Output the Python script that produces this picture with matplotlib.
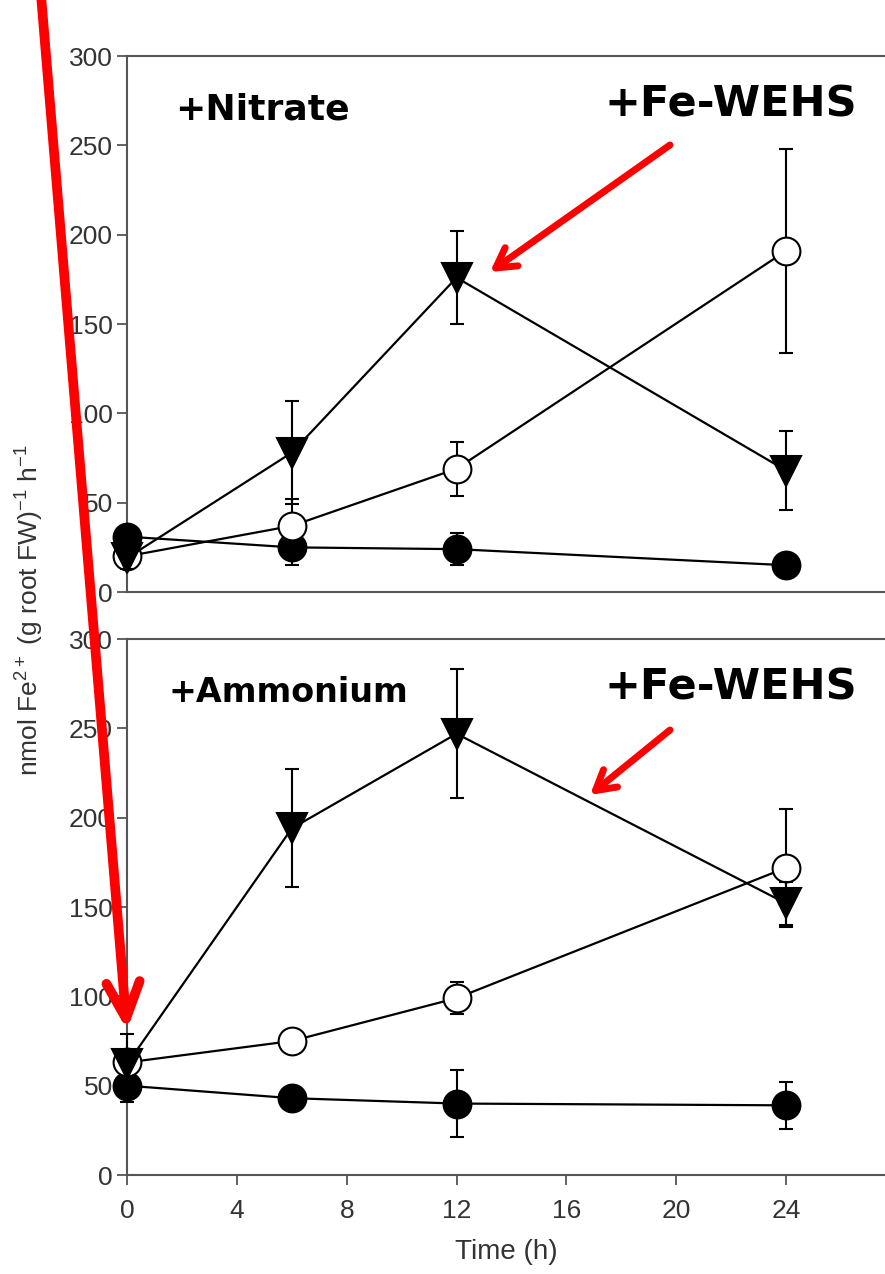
import matplotlib
matplotlib.use("Agg")
import matplotlib.pyplot as plt
from matplotlib.patches import FancyArrowPatch

# datos
tiempo = [0, 6, 12, 24]

# panel superior: +Nitrato
nit_lleno = [31, 25, 24, 15]
nit_lleno_err = [4, 10, 9, 3]
nit_abierto = [20, 37, 69, 191]
nit_abierto_err = [4, 15, 15, 57]
nit_tri = [19, 78, 176, 68]
nit_tri_err = [6, 29, 26, 22]

# panel inferior: +Amonio
amo_lleno = [50, 43, 40, 39]
amo_lleno_err = [9, 4, 19, 13]
amo_abierto = [63, 75, 99, 172]
amo_abierto_err = [4, 4, 9, 33]
amo_tri = [62, 194, 247, 152]
amo_tri_err = [17, 33, 36, 12]

xticks = [0, 4, 8, 12, 16, 20, 24]
yticks = [0, 50, 100, 150, 200, 250, 300]

GRIS = "#333333"
plt.rcParams["font.family"] = ["Liberation Sans", "DejaVu Sans"]

fig = plt.figure(figsize=(8.85, 12.74), dpi=100)
ax1 = fig.add_axes([0.1435, 0.5353, 0.8565, 0.4207])
ax2 = fig.add_axes([0.1435, 0.0777, 0.8565, 0.4207])


def serie(ax, y, err, marker, fill, z):
    ax.errorbar(tiempo, y, yerr=err, color="black", lw=1.6, elinewidth=1.5,
                capsize=5, capthick=1.5, marker=marker, ms=20 if marker == "o" else 21,
                mfc=fill, mec="black", mew=1.5, clip_on=False, zorder=z)


for ax, datos in [(ax1, (nit_lleno, nit_lleno_err, nit_abierto, nit_abierto_err, nit_tri, nit_tri_err)),
                  (ax2, (amo_lleno, amo_lleno_err, amo_abierto, amo_abierto_err, amo_tri, amo_tri_err))]:
    ll, lle, ab, abe, tr, tre = datos
    serie(ax, ll, lle, "o", "black", 3)
    serie(ax, ab, abe, "o", "white", 3.5)
    serie(ax, tr, tre, "v", "black", 4)
    ax.set_xlim(0, 27.6)
    ax.set_ylim(0, 300)
    ax.set_yticks(yticks)
    ax.spines["right"].set_visible(False)
    for s in ["left", "top", "bottom"]:
        ax.spines[s].set_color("#555555")
        ax.spines[s].set_linewidth(1.5)
    ax.tick_params(axis="y", direction="out", length=7, width=1.3, color="#555555",
                   labelsize=19, labelcolor=GRIS, pad=3)

ax1.set_xticks([])
ax2.set_xticks(xticks)
ax2.tick_params(axis="x", direction="out", length=7, width=1.3, color="#555555",
                labelsize=19, labelcolor=GRIS, pad=10)
ax2.set_xlabel("Time (h)", fontsize=20, color=GRIS, labelpad=12)

fig.text(0.034, 0.521, "nmol $\\mathregular{Fe^{2+}}$ (g root FW)$\\mathregular{^{-1}}$ h$\\mathregular{^{-1}}$",
         rotation=90, fontsize=19, color=GRIS, ha="center", va="center")

# rotulos
fuente = dict(fontweight="bold", color="black", family=["DejaVu Sans"])
ax1.text(1.75, 270, "+Nitrate", ha="left", va="center", fontsize=26, **fuente)
ax2.text(1.5, 270, "+Ammonium", ha="left", va="center", fontsize=24, **fuente)
ax1.text(17.4, 273, "+Fe-WEHS", ha="left", va="center", fontsize=31, **fuente)
ax2.text(17.4, 273, "+Fe-WEHS", ha="left", va="center", fontsize=31, **fuente)


def px(x, y):
    return (x / 885.0, 1 - y / 1274.0)


flechas = [((670, 145), (490, 272), 5, "->,head_length=14,head_width=8"),
           ((670, 730), (590, 795), 5, "->,head_length=14,head_width=8"),
           ((41, -5), (127, 1030), 7, "->,head_length=26,head_width=12")]
for a, b, lw, estilo in flechas:
    fig.add_artist(FancyArrowPatch(px(*a), px(*b), transform=fig.transFigure,
                                   arrowstyle=estilo, color="red", lw=lw,
                                   mutation_scale=1, shrinkA=0, shrinkB=0, zorder=10,
                                   capstyle="round", joinstyle="round"))

fig.savefig("out.png", dpi=100)
